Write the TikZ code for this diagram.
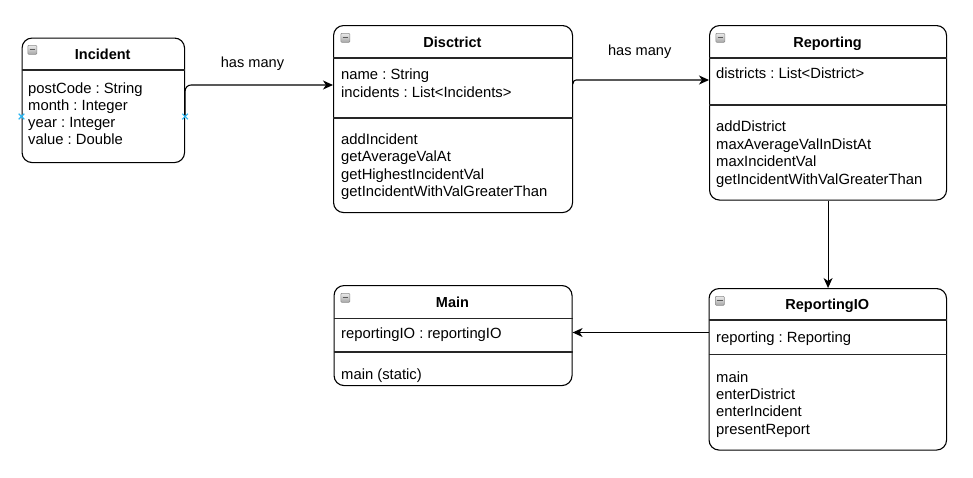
\documentclass[tikz,border=0pt]{standalone}
\usepackage{fontspec}
\setmainfont{Liberation Sans}
\usetikzlibrary{arrows.meta}
\definecolor{xblue}{HTML}{29B6F2}
\frenchspacing
\tikzset{
 cls/.style={draw=black, line width=1.1pt, rounded corners=10pt, fill=white, inner sep=0pt, anchor=north west},
 sepline/.style={draw=black!85, line width=1.1pt},
 ttl/.style={font=\fontsize{14.5}{17.3}\selectfont\bfseries, anchor=base, inner sep=0pt},
 txt/.style={font=\fontsize{14.8}{17.3}\selectfont, anchor=base west, inner sep=0pt},
 lbl/.style={font=\fontsize{14.6}{17.3}\selectfont, anchor=base, inner sep=0pt},
 conn/.style={draw=black, line width=1.1pt, -{Stealth[length=10pt,width=9pt,inset=3pt]}},
 icon/.style={draw=black!45, line width=0.6pt, top color=black!8, bottom color=black!35, rounded corners=1pt, minimum size=9pt, inner sep=0pt, anchor=north west,
   path picture={\draw[black!65,line width=1.3pt] ([xshift=1.8pt]path picture bounding box.west) -- ([xshift=-1.8pt]path picture bounding box.east);}},
 xmark/.style={draw=xblue, line width=1.1pt},
}
\begin{document}
\begin{tikzpicture}[x=1pt,y=-1pt]
\useasboundingbox (0,0) rectangle (973,477);
% ---------- Incident
\node[cls, minimum width=162.5pt, minimum height=124.5pt] (inc) at (21.5,37.5) {};
\draw[sepline] (inc.west |- 0,70) -- (inc.east |- 0,70);
\node[icon] (inci) at (27.5,45) {};
\node[ttl] (inct) at (102.75,59.5) {Incident};
\foreach \t [count=\i] in {postCode : String, month : Integer, year : Integer, value : Double}
  \node[txt] (inca\i) at (28,93+17.2*\i-17.2) {\t};
% ---------- District
\node[cls, minimum width=239pt, minimum height=187pt] (dis) at (333,25) {};
\draw[sepline] (dis.west |- 0,58) -- (dis.east |- 0,58);
\draw[sepline] (dis.west |- 0,118) -- (dis.east |- 0,118);
\node[icon] (disi) at (340.5,33) {};
\node[ttl] (dist) at (452.5,47) {Disctrict};
\node[txt] (disa1) at (341,79.5) {name : String};
\node[txt] (disa2) at (341,97.2) {incidents : List<Incidents>};
\foreach \t [count=\i] in {addIncident, getAverageValAt, getHighestIncidentVal, getIncidentWithValGreaterThan}
  \node[txt] (dism\i) at (341,144.3+17.4*\i-17.4) {\t};
% ---------- Reporting
\node[cls, minimum width=237pt, minimum height=174.5pt] (rep) at (709,25) {};
\draw[sepline] (rep.west |- 0,58) -- (rep.east |- 0,58);
\draw[sepline] (rep.west |- 0,105) -- (rep.east |- 0,105);
\node[icon] (repi) at (715.5,33) {};
\node[ttl] (rept) at (827.5,47.5) {Reporting};
\node[txt] (repa1) at (716,78.5) {districts : List<District>};
\foreach \t [count=\i] in {addDistrict, maxAverageValInDistAt, maxIncidentVal, getIncidentWithValGreaterThan}
  \node[txt] (repm\i) at (716,131.9+17.5*\i-17.5) {\t};
% ---------- Main
\node[cls, minimum width=238pt, minimum height=100pt] (main) at (333.5,285) {};
\draw[sepline] (main.west |- 0,318.5) -- (main.east |- 0,318.5);
\draw[sepline] (main.west |- 0,352) -- (main.east |- 0,352);
\node[icon] (maini) at (340.5,293) {};
\node[ttl] (maint) at (452.5,307) {Main};
\node[txt] (maina1) at (341,338.5) {reportingIO : reportingIO};
\node[txt] (mainm1) at (341,379.5) {main (static)};
% ---------- ReportingIO
\node[cls, minimum width=237.5pt, minimum height=161.5pt] (rio) at (708.5,288) {};
\draw[sepline] (rio.west |- 0,320) -- (rio.east |- 0,320);
\draw[sepline] (rio.west |- 0,354.5) -- (rio.east |- 0,354.5);
\node[icon] (rioi) at (715,296) {};
\node[ttl] (riot) at (827.25,309.5) {ReportingIO};
\node[txt] (rioa1) at (716,342) {reporting : Reporting};
\foreach \t [count=\i] in {main, enterDistrict, enterIncident, presentReport}
  \node[txt] (riom\i) at (716,382.5+17.2*\i-17.2) {\t};
% ---------- connectors
\draw[conn, rounded corners=6pt] (inc.east |- 0,116.5) -- (inc.east |- 0,85) -- (dis.west |- 0,85);
\node[lbl] (l1) at (252.5,67.5) {has many};
\draw[conn, rounded corners=3pt] (dis.east |- 0,84) -- (dis.east |- 0,80) -- (rep.west |- 0,80);
\node[lbl] (l2) at (639.7,55) {has many};
\draw[conn] (rep.south) -- (rep.south |- rio.north);
\draw[conn] (rio.west |- 0,332.5) -- (main.east |- 0,332.5);
% ---------- connection point marks
\draw[xmark] (inc.west |- 0,116.5) ++(-2.8,-2.8) -- ++(5.6,5.6) ++(-5.6,0) -- ++(5.6,-5.6);
\draw[xmark] (inc.east |- 0,116.5) ++(-2.8,-2.8) -- ++(5.6,5.6) ++(-5.6,0) -- ++(5.6,-5.6);
\end{tikzpicture}
\end{document}
